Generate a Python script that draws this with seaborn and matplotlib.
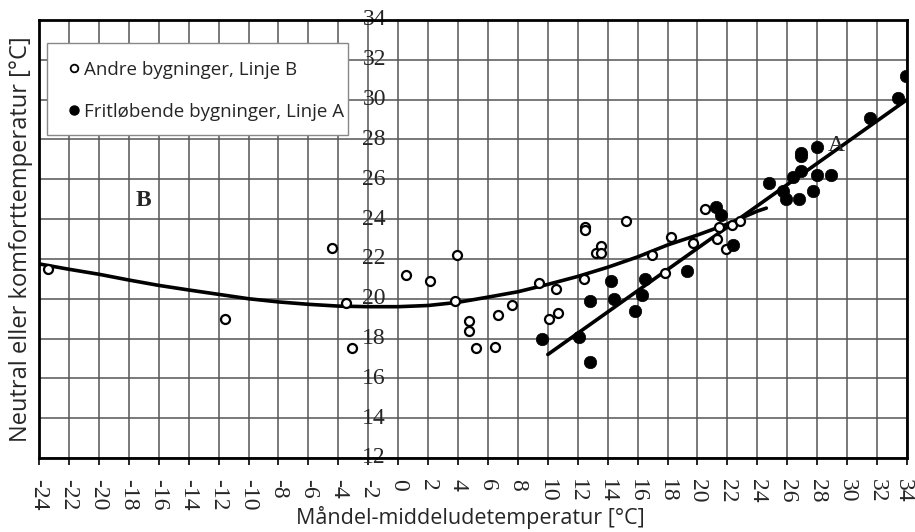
import matplotlib
matplotlib.use("Agg")
import matplotlib.pyplot as plt
import matplotlib.transforms as mtransforms
import seaborn as sns
import pandas as pd
from matplotlib.lines import Line2D
from matplotlib.patches import Rectangle

sns.set_style("white")
plt.rcParams['font.family'] = ['Open Sans', 'DejaVu Sans']

# Andre bygninger (open circles)
andre_x = [-23.4, -11.6, -4.4, -3.5, -3.1, 0.5, 2.1, 3.9, 3.8, 4.7, 4.7, 5.2,
           6.66, 6.5, 7.6, 9.4, 10.1, 10.7, 10.56, 12.4, 12.5, 12.5, 13.2,
           13.55, 13.55, 15.2, 16.96, 18.2, 17.85, 20.5, 19.7, 21.3, 21.45,
           21.9, 22.3, 22.85]
andre_y = [21.5, 19.0, 22.55, 19.8, 17.5, 21.2, 20.9, 22.2, 19.9, 18.9, 18.4, 17.5,
           19.2, 17.6, 19.7, 20.8, 19.0, 19.3, 20.5, 21.0, 23.6, 23.45, 22.3,
           22.65, 22.3, 23.9, 22.2, 23.1, 21.3, 24.5, 22.8, 23.0, 23.6,
           22.5, 23.7, 23.9]

# Fritløbende bygninger (filled circles)
frit_x = [9.6, 12.1, 12.8, 12.8, 14.2, 14.4, 15.85, 16.3, 16.5, 19.3, 21.25, 21.6,
          22.4, 24.8, 25.7, 25.9, 26.4, 26.9, 26.8, 26.9, 26.95, 28.0, 27.7, 28.9,
          28.0, 31.55, 33.4, 33.9]
frit_y = [18.0, 18.1, 16.8, 19.9, 20.9, 20.0, 19.4, 20.2, 21.0, 21.4, 24.6, 24.2,
          22.7, 25.8, 25.4, 25.0, 26.1, 26.4, 25.0, 27.3, 27.15, 26.2, 25.4, 26.2,
          27.6, 29.1, 30.1, 31.2]

# Linje B (curve) and Linje A (straight line)
lineB_x = [-24, -22, -20, -18, -16, -14, -12, -10, -8, -6, -4, -2, 0, 2, 4, 6, 8,
           10, 12, 14, 16, 18, 20, 22, 24, 24.6]
lineB_y = [21.75, 21.48, 21.23, 20.94, 20.67, 20.44, 20.22, 20.0, 19.84, 19.72,
           19.63, 19.6, 19.6, 19.66, 19.82, 20.08, 20.35, 20.72, 21.12, 21.58,
           22.1, 22.7, 23.2, 23.75, 24.4, 24.55]
lineA_x = [10.0, 34.0]
lineA_y = [17.2, 30.0]

x_ticks = list(range(-24, 35, 2))
y_ticks = list(range(12, 35, 2))

fig = plt.figure(figsize=(9.15, 5.32), dpi=100)
ax = fig.add_axes([39/915, 1-458/532, (907-39)/915, (458-20)/532])

for v in x_ticks:
    ax.axvline(v, color='#555555', lw=1.1, zorder=0)
for v in y_ticks:
    ax.axhline(v, color='#555555', lw=1.1, zorder=0)

sns.lineplot(x=lineB_x, y=lineB_y, ax=ax, color='black', lw=2.6, sort=False, zorder=3)
sns.lineplot(x=lineA_x, y=lineA_y, ax=ax, color='black', lw=2.6, sort=False, zorder=3)

sns.scatterplot(x=andre_x, y=andre_y, ax=ax, marker='o', s=42, facecolor='white',
                edgecolor='black', linewidth=1.6, zorder=4)
sns.scatterplot(x=frit_x, y=frit_y, ax=ax, marker='o', s=80, color='black',
                edgecolor='black', linewidth=0.5, zorder=5)

ax.set_xlim(-24, 34)
ax.set_ylim(12, 34)
ax.set_xticks(x_ticks)
ax.set_xticklabels([str(v) for v in x_ticks], rotation=270, family='Liberation Serif',
                   fontsize=17)
ax.set_yticks(y_ticks)
ax.tick_params(axis='x', length=5, width=1.2, color='black', pad=10, direction='out', bottom=True)
ax.tick_params(axis='y', length=0, labelleft=False)
xlbls = ax.get_xticklabels()
for lbl in xlbls:
    lbl.set_verticalalignment('top')
    lbl.set_horizontalalignment('center')
xlbls[-1].set_transform(xlbls[-1].get_transform() +
                        mtransforms.ScaledTranslation(-4/100, 0, fig.dpi_scale_trans))

for v in y_ticks:
    ax.text(-1.6, v, str(v), family='Liberation Serif', fontsize=17, ha='center',
            va='center', zorder=2)

for s in ax.spines.values():
    s.set_color('black')
    s.set_linewidth(2.0)
    s.set_visible(True)

ax.text(-17.05, 24.95, 'B', family='Liberation Serif', fontsize=17, fontweight='bold',
        ha='center', va='center', zorder=6)
ax.text(29.3, 27.7, 'A', family='Liberation Serif', fontsize=17, ha='center',
        va='center', zorder=6)

ax.set_xlabel('Måndel-middeludetemperatur [°C]', fontsize=15.5)
ax.xaxis.set_label_coords(0.497, (458-506)/438)
ax.xaxis.label.set_verticalalignment('top')
ax.set_ylabel('Neutral eller komforttemperatur [°C]', fontsize=17, labelpad=4)

# legend box
box = Rectangle((47/915, 1-135/532), 301/915, 92/532, transform=fig.transFigure,
                facecolor='white', edgecolor='#888888', lw=1.0, zorder=9)
ax.add_artist(box)
box.set_clip_on(False)

handles = [
    Line2D([], [], marker='o', linestyle='none', markerfacecolor='white',
           markeredgecolor='black', markersize=5.5, markeredgewidth=1.3,
           label='Andre bygninger, Linje B'),
    Line2D([], [], marker='o', linestyle='none', markerfacecolor='black',
           markeredgecolor='black', markersize=6.5, label='Fritløbende bygninger, Linje A'),
]
leg = ax.legend(handles=handles, loc='upper left', bbox_to_anchor=(66/915, 1-61/532),
                bbox_transform=fig.transFigure, frameon=False,
                fontsize=13.5, handletextpad=0.05, handlelength=0.9, labelspacing=1.27,
                borderpad=0, borderaxespad=0)
for t in leg.get_texts():
    t.set_fontweight('medium')
leg.set_zorder(10)

fig.savefig('out.png', dpi=100)
